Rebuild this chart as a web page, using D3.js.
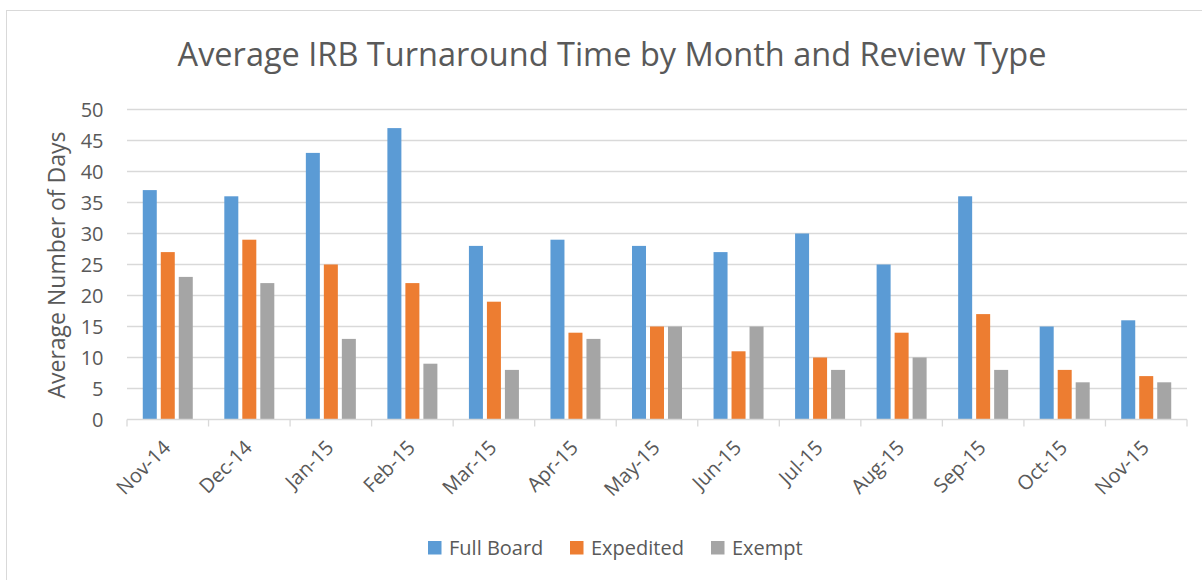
<!DOCTYPE html>
<html>
<head>
<meta charset="utf-8">
<script src="https://cdn.jsdelivr.net/npm/d3@7"></script>
<style>
  body { margin: 0; background: #fff; }
  svg text { font-family: "Open Sans", sans-serif; fill: #595959; }
</style>
</head>
<body>
<div id="canvas"></div>
<script>
var months = ['Nov-14','Dec-14','Jan-15','Feb-15','Mar-15','Apr-15','May-15','Jun-15','Jul-15','Aug-15','Sep-15','Oct-15','Nov-15'];
var seriesNames = ['Full Board','Expedited','Exempt'];
var fullBoard = [37,36,43,47,28,29,28,27,30,25,36,15,16];
var expedited = [27,29,25,22,19,14,15,11,10,14,17,8,7];
var exempt = [23,22,13,9,8,13,15,15,8,10,8,6,6];
var yTicks = [0,5,10,15,20,25,30,35,40,45,50];
var colors = ['#5B9BD5','#ED7D31','#A5A5A5'];

var W = 1202, H = 580;
var m = {t:109.5, r:15, b:160.5, l:127};
var w = W - m.l - m.r, h = H - m.t - m.b;

var svg = d3.select('#canvas').append('svg')
    .attr('width', W).attr('height', H);

// chart border
svg.append('rect')
    .attr('x', 6.5).attr('y', 10.5)
    .attr('width', 1210).attr('height', 600)
    .attr('fill', 'none').attr('stroke', '#D9D9D9');

svg.append('text')
    .attr('x', 612).attr('y', 65.5)
    .attr('text-anchor', 'middle')
    .style('font-size', '32.5px')
    .text('Average IRB Turnaround Time by Month and Review Type');

var plot = svg.append('g').attr('transform', 'translate(' + m.l + ',' + m.t + ')');

var x0 = d3.scaleBand().domain(months).range([0, w]);
var pad = (x0.bandwidth() - 50) / 2;
var x1 = d3.scaleBand().domain(seriesNames)
    .range([pad, x0.bandwidth() - pad]).paddingInner(0.222);
var y = d3.scaleLinear().domain([0, 50]).range([h, 0]);

// gridlines
plot.selectAll('.grid').data(yTicks.slice(1)).enter()
    .append('line')
    .attr('x1', 0).attr('x2', w)
    .attr('y1', function(d){ return y(d); })
    .attr('y2', function(d){ return y(d); })
    .attr('stroke', '#D9D9D9').attr('stroke-width', 1.3);

// y labels
plot.selectAll('.ylab').data(yTicks).enter()
    .append('text')
    .attr('x', -23.5).attr('y', function(d){ return y(d); })
    .attr('dy', '0.35em')
    .attr('text-anchor', 'end')
    .style('font-size', '20px')
    .text(function(d){ return d; });

var series = [fullBoard, expedited, exempt];
var rows = months.map(function(mo, i){
    return seriesNames.map(function(s, j){ return {month: mo, name: s, value: series[j][i], c: colors[j]}; });
});

plot.selectAll('.grp').data(rows).enter()
    .append('g')
    .attr('transform', function(d){ return 'translate(' + x0(d[0].month) + ',0)'; })
    .selectAll('rect').data(function(d){ return d; }).enter()
    .append('rect')
    .attr('x', function(d){ return x1(d.name); })
    .attr('width', x1.bandwidth())
    .attr('y', function(d){ return y(d.value); })
    .attr('height', function(d){ return h - y(d.value); })
    .attr('fill', function(d){ return d.c; });

// x axis
var xAxis = plot.append('g').attr('transform', 'translate(0,' + h + ')');
xAxis.append('line').attr('x1', 0).attr('x2', w)
    .attr('stroke', '#D9D9D9').attr('stroke-width', 1.3);
var bounds = months.map(function(d){ return x0(d); }).concat([w]);
xAxis.selectAll('.tk').data(bounds).enter()
    .append('line')
    .attr('x1', function(d){ return d; }).attr('x2', function(d){ return d; })
    .attr('y1', 0).attr('y2', 7)
    .attr('stroke', '#D9D9D9').attr('stroke-width', 1.3);
xAxis.selectAll('.xl').data(months).enter()
    .append('text')
    .attr('transform', function(d){
        return 'translate(' + (x0(d) + x0.bandwidth() / 2 + 4) + ',29.5) rotate(-45)';
    })
    .attr('text-anchor', 'end')
    .style('font-size', '20px')
    .text(function(d){ return d; });

// y axis title
svg.append('text')
    .attr('transform', 'translate(64.5,' + (m.t + h / 2 + 0.5) + ') rotate(-90)')
    .attr('text-anchor', 'middle')
    .style('font-size', '23px')
    .text('Average Number of Days');

// legend
var legX = [428, 570, 711];
var leg = svg.selectAll('.leg').data(seriesNames).enter()
    .append('g')
    .attr('transform', function(d, i){ return 'translate(' + legX[i] + ',541)'; });
leg.append('rect').attr('width', 13.5).attr('height', 13.5)
    .attr('fill', function(d, i){ return colors[i]; });
leg.append('text').attr('x', 21).attr('y', 7).attr('dy', '0.35em')
    .style('font-size', '20px')
    .text(function(d){ return d; });
</script>
</body>
</html>
